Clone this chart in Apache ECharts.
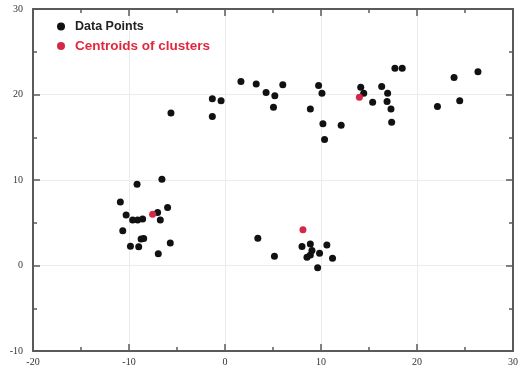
<!DOCTYPE html>
<html>
<head>
<meta charset="utf-8">
<script src="https://cdn.jsdelivr.net/npm/echarts@6/dist/echarts.min.js"></script>
<style>
html,body{margin:0;padding:0;background:#fff;}
#chart{width:521px;height:374px;}
</style>
</head>
<body>
<div id="chart"></div>
<script>
// Data points (x, y)
const dataX = [
  -9.16, -6.57, -10.9, -10.3, -9.62, -9.1, -8.58, -7.02, -6.74, -5.98, -10.65, -8.74, -8.47, -8.99, -9.85, -5.7, -6.95,
  3.42, 5.15, 8.02, 8.89, 9.06, 8.54, 8.89, 9.85, 10.61, 11.2, 9.65,
  -5.63, -1.32, -0.41, -1.32, 1.66, 3.25, 4.28, 5.19, 5.05, 6.02, 9.75, 10.1, 8.89, 10.2, 12.1, 10.37,
  14.14, 14.45, 15.38, 16.32, 16.94, 16.88, 17.29, 17.36, 17.7, 18.46, 23.86, 26.35, 24.45, 22.13
];
const dataY = [
  9.5, 10.08, 7.44, 5.9, 5.31, 5.31, 5.43, 6.2, 5.31, 6.78, 4.07, 3.1, 3.17, 2.2, 2.25, 2.63, 1.36,
  3.18, 1.08, 2.21, 2.52, 1.74, 0.97, 1.24, 1.43, 2.4, 0.85, -0.27,
  17.83, 19.5, 19.26, 17.44, 21.51, 21.24, 20.23, 19.85, 18.52, 21.13, 21.05, 20.15, 18.29, 16.59, 16.4, 14.73,
  20.85, 20.15, 19.1, 20.93, 20.15, 19.19, 18.29, 16.74, 23.06, 23.06, 22.0, 22.67, 19.27, 18.6
];
// Centroids of clusters
const centroidX = [-7.54, 8.12, 14.0];
const centroidY = [6.0, 4.19, 19.69];

const xTicks = [-20, -10, 0, 10, 20, 30];
const yTicks = [-10, 0, 10, 20, 30];

const pointsData = dataX.map((x, i) => [x, dataY[i]]);
const centroidData = centroidX.map((x, i) => [x, centroidY[i]]);

const axisLine = {show: true, onZero: false, lineStyle: {color: '#5a5a5a', width: 2}};
const tickStyle = {inside: true, length: 7, lineStyle: {color: '#5a5a5a', width: 1.5}};
const minor = {show: true, splitNumber: 2, length: 4, lineStyle: {color: '#5a5a5a', width: 1.5}};
const labelFont = {fontFamily: 'Liberation Serif', fontSize: 10, color: '#333'};

const chart = echarts.init(document.getElementById('chart'));
chart.setOption({
  animation: false,
  backgroundColor: '#fff',
  grid: {left: 33, right: 6, top: 9, bottom: 23, containLabel: false},
  legend: {
    orient: 'vertical',
    left: 52,
    top: 15,
    itemGap: 6,
    itemWidth: 8,
    itemHeight: 8,
    data: [
      {name: 'Data Points', icon: 'circle', textStyle: {color: '#222', fontSize: 12.5}},
      {name: 'Centroids of clusters', icon: 'circle', textStyle: {color: '#e0283c', fontSize: 13.5}}
    ],
    textStyle: {fontFamily: 'Liberation Sans', fontSize: 13, fontWeight: 'bold', padding: [0, 0, 0, 5]}
  },
  xAxis: [
    {
      type: 'value', min: -20, max: 30, interval: 10, position: 'bottom',
      axisLine: axisLine, axisTick: tickStyle, minorTick: minor,
      axisLabel: Object.assign({margin: 6, customValues: xTicks}, labelFont),
      splitLine: {show: true, lineStyle: {color: '#ececec', width: 1}}
    },
    {
      type: 'value', min: -20, max: 30, interval: 10, position: 'top',
      axisLine: axisLine, axisTick: tickStyle, minorTick: minor,
      axisLabel: {show: false}, splitLine: {show: false}
    }
  ],
  yAxis: [
    {
      type: 'value', min: -10, max: 30, interval: 10, position: 'left',
      axisLine: axisLine, axisTick: tickStyle, minorTick: minor,
      axisLabel: Object.assign({margin: 10, customValues: yTicks}, labelFont),
      splitLine: {show: true, lineStyle: {color: '#ececec', width: 1}}
    },
    {
      type: 'value', min: -10, max: 30, interval: 10, position: 'right',
      axisLine: axisLine, axisTick: tickStyle, minorTick: minor,
      axisLabel: {show: false}, splitLine: {show: false}
    }
  ],
  series: [
    {
      name: 'Data Points', type: 'scatter', xAxisIndex: 0, yAxisIndex: 0,
      symbol: 'circle', symbolSize: 7,
      itemStyle: {color: '#111', opacity: 1},
      data: pointsData
    },
    {
      name: 'Centroids of clusters', type: 'scatter', xAxisIndex: 0, yAxisIndex: 0,
      symbol: 'circle', symbolSize: 7,
      itemStyle: {color: '#d42848', opacity: 1},
      data: centroidData
    }
  ]
});
</script>
</body>
</html>
